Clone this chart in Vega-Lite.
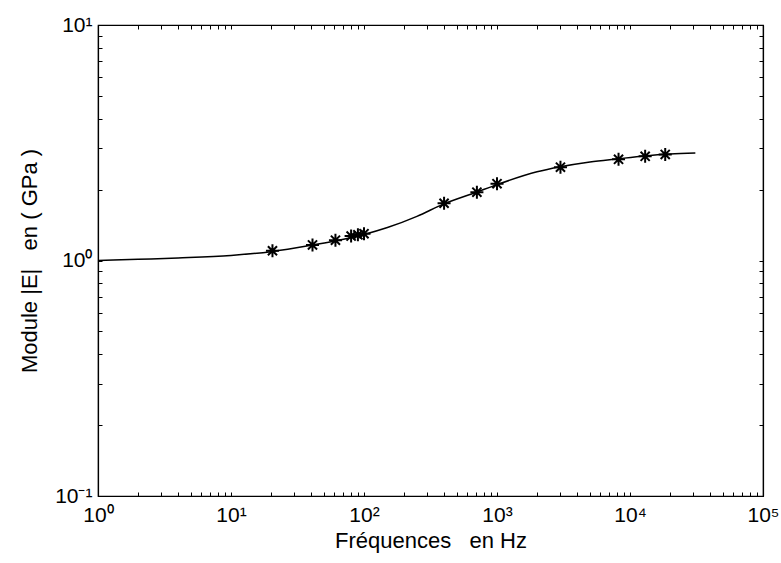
{
  "$schema": "https://vega.github.io/schema/vega-lite/v6.json",
  "autosize": "none",
  "width": 665,
  "height": 471,
  "padding": {"left": 98, "top": 25, "right": 18, "bottom": 67},
  "background": "white",
  "config": {
    "view": {"stroke": "black", "strokeWidth": 1.2},
    "font": "Liberation Sans",
    "axis": {
      "grid": false,
      "domainColor": "black",
      "domainWidth": 1.2,
      "tickColor": "black",
      "tickSize": -4,
      "tickWidth": 1,
      "labelColor": "black",
      "labelFont": "Liberation Sans",
      "labelFontSize": 21,
      "titleFont": "Liberation Sans",
      "titleFontSize": 22,
      "titleFontWeight": "normal",
      "titleColor": "black"
    }
  },
  "datasets": {
    "curve": [
      {"f": 1, "E": 1.0},
      {"f": 2, "E": 1.012},
      {"f": 4, "E": 1.025},
      {"f": 10, "E": 1.05},
      {"f": 20, "E": 1.09},
      {"f": 40, "E": 1.16},
      {"f": 60, "E": 1.21},
      {"f": 100, "E": 1.29},
      {"f": 150, "E": 1.38},
      {"f": 250, "E": 1.54},
      {"f": 400, "E": 1.74},
      {"f": 700, "E": 1.95},
      {"f": 1000, "E": 2.1},
      {"f": 2000, "E": 2.38},
      {"f": 3000, "E": 2.5},
      {"f": 5000, "E": 2.62},
      {"f": 8000, "E": 2.7},
      {"f": 13000, "E": 2.78},
      {"f": 20000, "E": 2.83},
      {"f": 31000, "E": 2.86}
    ],
    "points": [
      {"f": 20.5, "E": 1.1},
      {"f": 41, "E": 1.164},
      {"f": 61, "E": 1.22},
      {"f": 80, "E": 1.27},
      {"f": 90, "E": 1.285},
      {"f": 100, "E": 1.3},
      {"f": 400, "E": 1.75},
      {"f": 706, "E": 1.95},
      {"f": 1000, "E": 2.12},
      {"f": 3000, "E": 2.49},
      {"f": 8200, "E": 2.69},
      {"f": 13000, "E": 2.77},
      {"f": 18400, "E": 2.82}
    ]
  },
  "resolve": {"axis": {"x": "independent", "y": "independent"}},
  "layer": [
    {
      "data": {"name": "curve"},
      "mark": {"type": "line", "color": "black", "strokeWidth": 1.5, "interpolate": "monotone"},
      "encoding": {
        "x": {
          "field": "f", "type": "quantitative",
          "scale": {"type": "log", "domain": [1, 100000], "nice": false},
          "axis": {
            "orient": "bottom",
            "title": "Fréquences\u00a0\u00a0\u00a0en Hz",
            "titlePadding": 5,
            "labelPadding": 12,
            "values": [1,2,3,4,5,6,7,8,9,10,20,30,40,50,60,70,80,90,100,200,300,400,500,600,700,800,900,1000,2000,3000,4000,5000,6000,7000,8000,9000,10000,20000,30000,40000,50000,60000,70000,80000,90000,100000],
            "labelExpr": "datum.value == 1 ? '10⁰' : datum.value == 10 ? '10¹' : datum.value == 100 ? '10²' : datum.value == 1000 ? '10³' : datum.value == 10000 ? '10⁴' : datum.value == 100000 ? '10⁵' : ''",
            "labelOverlap": false,
            "labelFlush": false
          }
        },
        "y": {
          "field": "E", "type": "quantitative",
          "scale": {"type": "log", "domain": [0.1, 10], "nice": false},
          "axis": {
            "orient": "left",
            "title": "Module |E|\u00a0\u00a0\u00a0en ( GPa )",
            "titlePadding": 13,
            "labelPadding": 10,
            "values": [0.1,0.2,0.3,0.4,0.5,0.6,0.7,0.8,0.9,1,2,3,4,5,6,7,8,9,10],
            "labelExpr": "datum.value == 0.1 ? '10⁻¹' : datum.value == 1 ? '10⁰' : datum.value == 10 ? '10¹' : ''",
            "labelOverlap": false,
            "labelFlush": false
          }
        }
      }
    },
    {
      "data": {"name": "points"},
      "mark": {
        "type": "point",
        "shape": "M -1 0 L 1 0 M 0 -1 L 0 1 M -0.7 -0.7 L 0.7 0.7 M -0.7 0.7 L 0.7 -0.7",
        "filled": false,
        "stroke": "black",
        "strokeWidth": 2,
        "size": 170,
        "opacity": 1
      },
      "encoding": {
        "x": {
          "field": "f", "type": "quantitative",
          "scale": {"type": "log", "domain": [1, 100000], "nice": false},
          "axis": {
            "orient": "top",
            "title": null,
            "labels": false,
            "values": [1,2,3,4,5,6,7,8,9,10,20,30,40,50,60,70,80,90,100,200,300,400,500,600,700,800,900,1000,2000,3000,4000,5000,6000,7000,8000,9000,10000,20000,30000,40000,50000,60000,70000,80000,90000,100000]
          }
        },
        "y": {
          "field": "E", "type": "quantitative",
          "scale": {"type": "log", "domain": [0.1, 10], "nice": false},
          "axis": {
            "orient": "right",
            "title": null,
            "labels": false,
            "values": [0.1,0.2,0.3,0.4,0.5,0.6,0.7,0.8,0.9,1,2,3,4,5,6,7,8,9,10]
          }
        }
      }
    }
  ]
}
